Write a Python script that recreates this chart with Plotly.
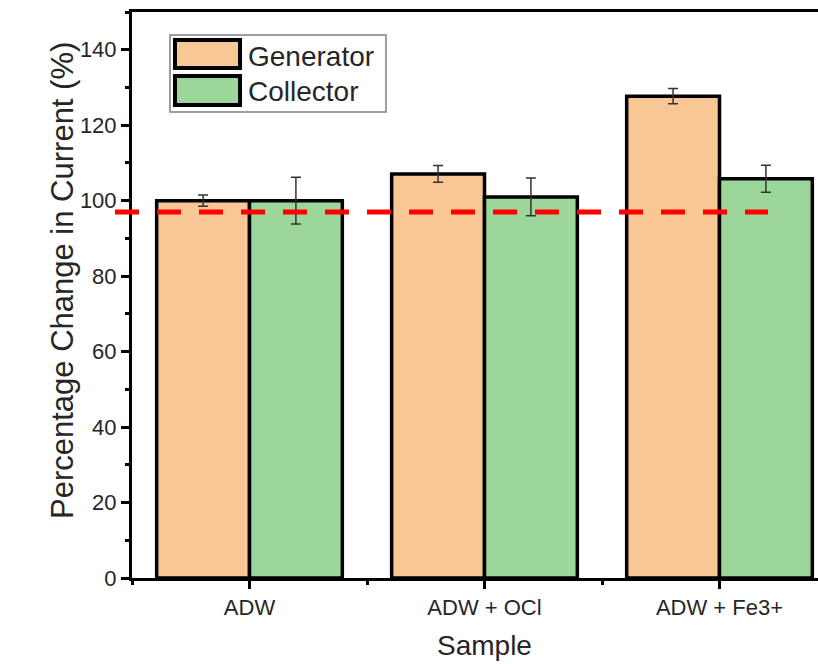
import plotly.graph_objects as go

# ---- data ----
categories = ["ADW", "ADW + OCl", "ADW + Fe3+"]
generator = [100.0, 107.1, 127.7]
generator_err = [1.5, 2.2, 2.0]
collector = [100.0, 101.0, 105.8]
collector_err = [6.2, 5.0, 3.6]
series_names = ["Generator", "Collector"]
reference_level = [97.0]
y_ticks = [0, 20, 40, 60, 80, 100, 120, 140]

# ---- style ----
FONT = "Liberation Sans, Arial, sans-serif"
GEN_COLOR = "#F9C796"
COL_COLOR = "#9DD69B"
TXT = "#262626"

W, H = 818, 664
ML, MR, MT, MB = 132, 0, 12, 86
PW, PH = W - ML - MR, H - MT - MB

def px(xpix):
    return (xpix - ML) / PW

def py(ypix):
    return (H - MB - ypix) / PH

xpos = list(range(len(categories)))

fig = go.Figure()
for name, vals, errs, color in [
    (series_names[0], generator, generator_err, GEN_COLOR),
    (series_names[1], collector, collector_err, COL_COLOR),
]:
    fig.add_trace(go.Bar(
        x=xpos, y=vals, name=name,
        marker=dict(color=color, line=dict(color="black", width=3.5)),
        error_y=dict(type="data", array=errs, visible=True,
                     color="#333333", thickness=1.5, width=5),
        showlegend=False,
    ))

# reference dashed line
fig.add_shape(type="line", xref="paper", yref="y",
              x0=px(115), x1=px(768), y0=reference_level[0], y1=reference_level[0],
              line=dict(color="#FF0000", width=5, dash="24px,18px"), layer="above")

# custom legend (box + swatches + labels)
fig.add_shape(type="rect", xref="paper", yref="paper",
              x0=px(170), x1=px(386), y0=py(112), y1=py(35),
              line=dict(color="#808080", width=1.5), fillcolor="white", layer="above")
swatches = [(GEN_COLOR, 40, 68, 56), (COL_COLOR, 76, 105, 91)]
for (color, ytop, ybot, ytext), name in zip(swatches, series_names):
    fig.add_shape(type="rect", xref="paper", yref="paper",
                  x0=px(175), x1=px(240), y0=py(ybot), y1=py(ytop),
                  line=dict(color="black", width=4), fillcolor=color, layer="above")
    fig.add_annotation(xref="paper", yref="paper", x=px(246), y=py(ytext),
                       text=name, showarrow=False, xanchor="left", yanchor="middle",
                       font=dict(family=FONT, size=28, color=TXT))

# axis titles as annotations
fig.add_annotation(xref="x", yref="paper", x=1, y=py(645), text="Sample",
                   showarrow=False, xanchor="center", yanchor="middle",
                   font=dict(family=FONT, size=28, color=TXT))
fig.add_annotation(xref="paper", yref="paper", x=px(62), y=py(281),
                   text="Percentage Change in Current (%)", textangle=-90,
                   showarrow=False, xanchor="center", yanchor="middle",
                   font=dict(family=FONT, size=31, color=TXT))

fig.update_layout(
    width=W, height=H,
    margin=dict(l=ML, r=MR, t=MT, b=MB),
    paper_bgcolor="white", plot_bgcolor="white",
    barmode="group", bargap=0.21, bargroupgap=0,
    font=dict(family=FONT, color=TXT),
    showlegend=False,
)
fig.update_xaxes(
    range=[-0.5, -0.5 + PW / 235.0],
    tickmode="array", tickvals=xpos, ticktext=categories,
    ticks="outside", ticklen=8, tickwidth=3, tickcolor="black",
    minor=dict(tickmode="linear", tick0=-0.5, dtick=1, ticks="outside",
               ticklen=4, tickwidth=3, tickcolor="black"),
    showline=True, linecolor="black", linewidth=3, mirror=True,
    showgrid=False, zeroline=False,
    tickfont=dict(family=FONT, size=22, color=TXT),
)
fig.update_yaxes(
    range=[0, 150],
    tickmode="array", tickvals=y_ticks,
    ticks="outside", ticklen=8, tickwidth=3, tickcolor="black",
    minor=dict(tickmode="linear", tick0=10, dtick=20, ticks="outside",
               ticklen=4, tickwidth=3, tickcolor="black"),
    showline=True, linecolor="black", linewidth=3, mirror=False,
    showgrid=False, zeroline=False,
    tickfont=dict(family=FONT, size=22, color=TXT),
)

fig.write_html("out.html")
